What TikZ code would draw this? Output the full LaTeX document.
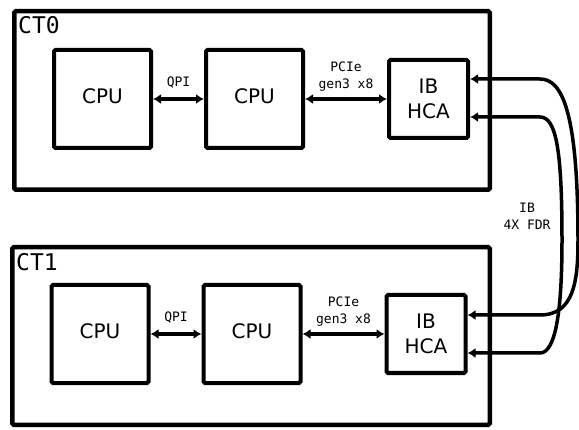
\documentclass[tikz,border=0pt]{standalone}
\usepackage{fontspec}
\setmainfont{DejaVu Sans}
\setmonofont{DejaVu Sans Mono}
\usetikzlibrary{positioning,arrows.meta}

\begin{document}
\begin{tikzpicture}[
    x=1pt, y=1pt,
    frame/.style={draw, line width=4.5pt, rounded corners=1.5pt, inner sep=0pt, minimum width=475.5pt, minimum height=178.5pt},
    title/.style={anchor=north west, inner sep=0pt, font=\ttfamily\fontsize{23}{23}\selectfont},
    chip/.style={draw, line width=4pt, rounded corners=1.5pt, inner sep=0pt},
    cpu/.style={chip, minimum width=97pt, minimum height=98pt, text depth=6pt, font=\fontsize{20}{24}\selectfont},
    hca/.style={chip, minimum width=79pt, minimum height=78pt, align=center, font=\fontsize{20}{25}\selectfont},
    lbl/.style={inner sep=0pt, align=center, font=\ttfamily\fontsize{13}{17}\selectfont},
    bus/.style={{Latex[length=8pt,width=10pt]}-{Latex[length=8pt,width=10pt]}, line width=3.5pt},
    link/.style={{Latex[length=8pt,width=10pt]}-{Latex[length=8pt,width=10pt]}, line width=3.5pt}
  ]
    \useasboundingbox (0,0) rectangle (579,429);

    % chassis CT0
    \node[frame] (ct0) at (252,328.5) {};
    \node[title] (t0) at ([shift={(6pt,-7pt)}]ct0.north west) {CT0};
    \node[cpu] (cpua0) at (102.5,330) {CPU};
    \node[cpu, right=51pt of cpua0] (cpub0) {CPU};
    \node[hca, right=82pt of cpub0] (hca0) {IB\\HCA};

    % chassis CT1
    \node[frame, below=53pt of ct0, xshift=-1pt, minimum width=477.5pt, minimum height=177.5pt] (ct1) {};
    \node[title] (t1) at ([shift={(6pt,-8pt)}]ct1.north west) {CT1};
    \node[cpu] (cpua1) at (100,95) {CPU};
    \node[cpu, right=51pt of cpua1] (cpub1) {CPU};
    \node[hca, right=82pt of cpub1] (hca1) {IB\\HCA};

    \draw[bus] (cpua0) -- node[lbl, above=9pt] (qpi0) {QPI} (cpub0);
    \draw[bus] (cpub0) -- node[lbl, above=6pt] (pcie0) {PCIe\\gen3 x8} (hca0);
    \draw[bus] (cpua1) -- node[lbl, above=9pt] (qpi1) {QPI} (cpub1);
    \draw[bus] (cpub1) -- node[lbl, above=6pt] (pcie1) {PCIe\\gen3 x8} (hca1);

    % IB cables between the two HCAs
    \draw[link] ([yshift=20pt]hca0.east) -- (540,350) .. controls (562,350) and (578,318) .. (578,189)
      .. controls (578,148) and (574,114) .. (540,114) -- ([yshift=19pt]hca1.east);
    \draw[link] ([yshift=-18pt]hca0.east) -- (540,312) .. controls (556,312) and (562,280) .. (562,189)
      .. controls (562,120) and (556,76) .. (540,76) -- ([yshift=-19pt]hca1.east);
    \node[lbl] (fdr) at (527,213) {IB\\4X FDR};
  \end{tikzpicture}
\end{document}
